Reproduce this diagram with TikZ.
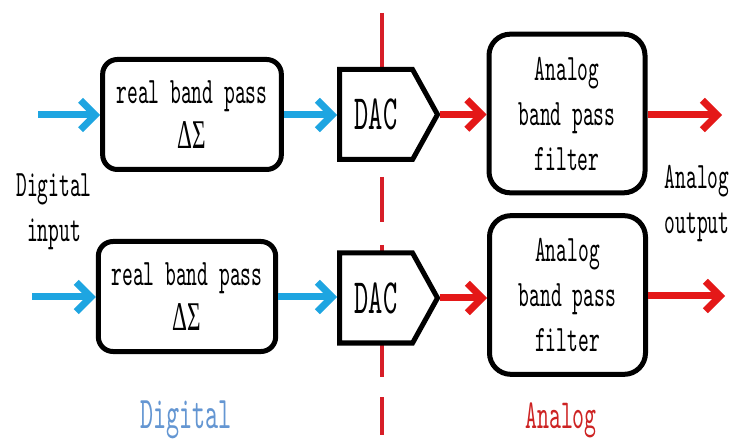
\documentclass[tikz,border=0pt]{standalone}
\usepackage{fontspec}
\setmainfont[FakeStretch=0.55]{lmmono10-regular.otf}
\newfontfamily\grkfont[FakeStretch=0.57]{Liberation Serif}
\usetikzlibrary{arrows.meta,shapes.symbols}
\definecolor{sigcyan}{RGB}{30,165,225}
\definecolor{sigred}{RGB}{228,24,24}
\definecolor{cutred}{RGB}{215,30,40}
\definecolor{digblue}{RGB}{100,150,210}
\definecolor{anred}{RGB}{205,35,35}
\newcommand{\dsig}{{\grkfont\fontsize{30.6}{33.75}\selectfont ΔΣ}}
\begin{document}
\begin{tikzpicture}[x=0.75pt,y=-0.75pt,
  txt/.style={font=\fontsize{28}{33.75}\selectfont},
  modbox/.style={draw, line width=3.75pt, rounded corners=11pt, fill=white,
    minimum height=82.5pt, inner sep=0pt, align=center, txt},
  filterbox/.style={draw, line width=3.75pt, rounded corners=16pt, fill=white,
    minimum width=117pt, minimum height=119pt, inner sep=0pt, align=center, txt},
  dacbox/.style={draw, line width=3.75pt, fill=white, signal, signal to=east,
    signal pointer angle=122, minimum width=73.5pt, minimum height=67.5pt,
    inner sep=0pt, anchor=west, font=\fontsize{37}{37}\selectfont},
  digarrow/.style={draw=sigcyan, line width=5.25pt,
    -{Straight Barb[length=11pt,width=22pt]}},
  anarrow/.style={draw=sigred, line width=5.25pt,
    -{Straight Barb[length=11pt,width=22pt]}},
  cut/.style={draw=cutred, line width=2.4pt}
]
\useasboundingbox (0,0) rectangle (741,448);

% digital / analog boundary, broken line behind the converters
\draw[cut] (382,13) -- (382,90);
\draw[cut] (382,177) -- (382,222);
\draw[cut] (382,245) -- (382,280);
\draw[cut] (382,330) -- (382,377);
\draw[cut] (382,397) -- (382,435);

% upper chain
\node[modbox, minimum width=134pt] (mod1) at (192,114.5) {real band pass\\\dsig};
\node[dacbox] (dac1) at (337,114.5) {DAC};
\node[filterbox] (flt1) at (567,113.5) {Analog\\band pass\\filter};
\coordinate (in1) at (38,115);
\coordinate (out1) at (722,115);

% lower chain
\node[modbox, minimum width=133pt] (mod2) at (187,296.5) {real band pass\\\dsig};
\node[dacbox] (dac2) at (337,298) {DAC};
\node[filterbox] (flt2) at (567.5,295) {Analog\\band pass\\filter};
\coordinate (in2) at (32,297);
\coordinate (out2) at (725,296);

% connectors
\draw[digarrow] (in1) -- (in1 -| mod1.west);
\draw[digarrow] (mod1.east |- in1) -- (dac1.west |- in1);
\draw[anarrow] (dac1.east) -- (dac1.east -| flt1.west);
\draw[anarrow] (flt1.east |- out1) -- (out1);

\draw[digarrow] (in2) -- (in2 -| mod2.west);
\draw[digarrow] (mod2.east |- in2) -- (dac2.west |- in2);
\draw[anarrow] (dac2.east) -- (dac2.east -| flt2.west);
\draw[anarrow] (flt2.east |- out2) -- (out2);

% side labels
\node[txt, align=center] (din) at (54,212) {Digital\\input};
\node[txt, align=center] (aout) at (697,204) {Analog\\output};

% domain labels
\node[font=\fontsize{34}{34}\selectfont, text=digblue, anchor=base] (dom1) at (186,428) {Digital};
\node[font=\fontsize{31}{31}\selectfont, text=anred, anchor=base] (dom2) at (561,428) {Analog};
\end{tikzpicture}
\end{document}
